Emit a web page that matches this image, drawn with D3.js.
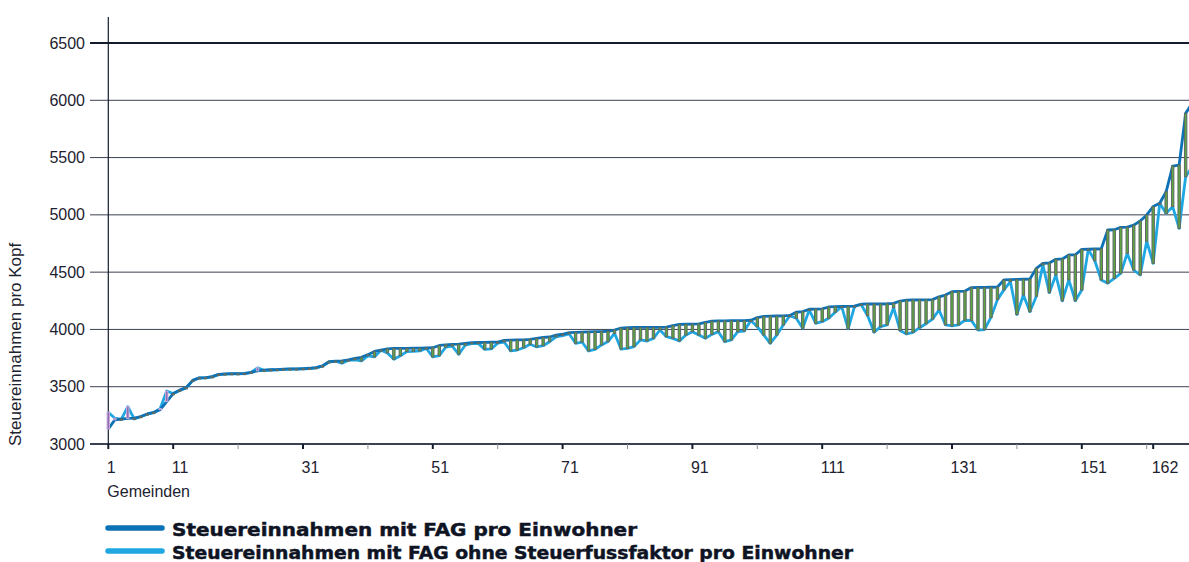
<!DOCTYPE html>
<html><head><meta charset="utf-8">
<script src="https://cdn.jsdelivr.net/npm/d3@7"></script>
<style>
html,body{margin:0;padding:0;background:#fff;}
svg{display:block;}
</style></head>
<body>
<svg id="chart" width="1189" height="562"></svg>
<script>
// Steuereinnahmen mit FAG pro Einwohner (dark line), sorted by Gemeinde rank
const mitFAG = [
3131,3210,3218,3224,3226,3240,3262,3276,3300,3370,
3440,3470,3492,3555,3578,3580,3588,3608,3612,3614,
3614,3616,3626,3638,3645,3648,3650,3654,3655,3656,
3658,3661,3667,3682,3718,3724,3726,3734,3748,3757,
3780,3808,3820,3830,3834,3835,3835,3836,3836,3838,
3840,3860,3866,3870,3871,3878,3884,3886,3887,3888,
3890,3905,3907,3908,3909,3914,3922,3930,3934,3950,
3958,3972,3975,3976,3978,3980,3981,3984,3995,4012,
4016,4017,4018,4018,4018,4018,4020,4033,4044,4045,
4046,4048,4062,4072,4074,4075,4076,4076,4077,4080,
4103,4114,4116,4117,4118,4122,4150,4156,4176,4178,
4180,4196,4199,4200,4202,4204,4220,4222,4222,4222,
4224,4228,4248,4255,4257,4258,4258,4260,4285,4300,
4330,4332,4335,4365,4366,4367,4368,4370,4432,4434,
4436,4438,4440,4533,4577,4580,4612,4615,4650,4652,
4699,4700,4702,4704,4868,4870,4891,4893,4910,4946,
4999,5072,5101,5202,5426,5435,5886,5975];
// Steuereinnahmen mit FAG ohne Steuerfussfaktor pro Einwohner (light line)
const ohneSteuerfuss = [
3278,3225,3215,3326,3218,3238,3260,3274,3310,3462,
3440,3468,3490,3553,3576,3578,3586,3606,3610,3612,
3612,3614,3624,3665,3643,3646,3648,3652,3653,3654,
3656,3659,3665,3680,3716,3722,3705,3732,3735,3725,
3770,3760,3818,3795,3740,3770,3806,3808,3812,3835,
3760,3771,3845,3855,3783,3862,3876,3878,3826,3830,
3880,3890,3812,3820,3840,3870,3847,3858,3893,3935,
3946,3962,3879,3890,3812,3826,3865,3894,3966,3829,
3834,3850,3908,3899,3922,3995,3937,3922,3899,3951,
3980,3951,3922,3957,3980,3893,3908,3980,3986,4078,
4024,3951,3879,3951,4039,4120,4097,4010,4170,4053,
4068,4097,4150,4199,4005,4204,4218,4120,3975,4024,
4039,4190,3990,3960,3975,4015,4050,4090,4170,4039,
4030,4040,4080,4077,3995,3998,4105,4260,4345,4417,
4130,4300,4155,4290,4562,4321,4475,4250,4432,4250,
4344,4699,4600,4432,4403,4446,4490,4664,4518,4475,
4770,4577,5101,5013,5072,4882,5333,5420];

const yTicks = [3000,3500,4000,4500,5000,5500,6000,6500];
const xMajorTicks = [1,11,31,51,71,91,111,131,151,162];
const xMinorTicks = [21,41,61,81,101,121,141,161];
const yTitle = "Steuereinnahmen pro Kopf";
const xTitle = "Gemeinden";
const legendLabels = ["Steuereinnahmen mit FAG pro Einwohner",
                      "Steuereinnahmen mit FAG ohne Steuerfussfaktor pro Einwohner"];

(function(){
const data = mitFAG.map((v,i)=>({g:i+1, a:v, b:ohneSteuerfuss[i]}));

const W = 1189, H = 562;
const svg = d3.select("#chart");
const plotLeft = 108.3, gridLeft = 90, plotBottom = 444, plotTop = 43;
const step = 6.49;
const x = d3.scaleLinear().domain([1, data.length]).range([plotLeft, plotLeft + step*(data.length-1)]);
const y = d3.scaleLinear().domain([3000, 6500]).range([plotBottom, plotTop]);

const darkBlue = "#0c72b6", lightBlue = "#1ea7e1", ink = "#141b2d";
const font = "'Liberation Sans', Arial, sans-serif";
const labelSize = 16;

// grid lines
svg.append("g").selectAll("line").data(yTicks).join("line")
  .attr("x1", gridLeft).attr("x2", W)
  .attr("y1", d=>y(d)).attr("y2", d=>y(d))
  .attr("stroke", d=> d===6500 ? ink : "#3b4150")
  .attr("stroke-width", d=> d===6500 ? 2.2 : (d===3000 ? 2 : 1));

// y labels
svg.append("g").selectAll("text").data(yTicks).join("text")
  .attr("x", 85).attr("y", d=>y(d)+5.5)
  .attr("text-anchor","end")
  .attr("font-family", font).attr("font-size", labelSize).attr("fill", "#1d2230")
  .text(d=>d);

// y axis line
svg.append("line").attr("x1", plotLeft).attr("x2", plotLeft)
  .attr("y1", y.range()[1]-26).attr("y2", plotBottom)
  .attr("stroke", ink).attr("stroke-width", 1.2);

// x ticks
svg.append("g").selectAll("line").data(xMinorTicks).join("line")
  .attr("x1", d=>x(d)).attr("x2", d=>x(d))
  .attr("y1", plotBottom).attr("y2", plotBottom+5)
  .attr("stroke", "#8a8f98").attr("stroke-width", 1);
svg.append("g").selectAll("line").data(xMajorTicks).join("line")
  .attr("x1", d=>x(d)).attr("x2", d=>x(d))
  .attr("y1", plotBottom).attr("y2", plotBottom+5)
  .attr("stroke", ink).attr("stroke-width", 2);
svg.append("g").selectAll("text").data(xMajorTicks).join("text")
  .attr("x", d=>x(d)-1.5).attr("y", plotBottom+29)
  .attr("font-family", font).attr("font-size", labelSize).attr("fill", "#1d2230")
  .text(d=>d);
svg.append("text").attr("x", plotLeft-1).attr("y", plotBottom+53)
  .attr("font-family", font).attr("font-size", labelSize).attr("fill", "#1d2230")
  .text(xTitle);

// y title
svg.append("text")
  .attr("transform", `translate(21, ${plotBottom+2}) rotate(-90)`)
  .attr("font-family", font).attr("font-size", 17).attr("fill", "#1d2230")
  .text(yTitle);

// lines
const plot = svg.append("g");
const lineA = d3.line().x(d=>x(d.g)).y(d=>y(d.a));
const lineB = d3.line().x(d=>x(d.g)).y(d=>y(d.b));
plot.append("path").datum(data).attr("d", lineB)
  .attr("fill","none").attr("stroke", lightBlue).attr("stroke-width", 2.8).attr("stroke-linejoin","round");
plot.append("path").datum(data).attr("d", lineA)
  .attr("fill","none").attr("stroke", darkBlue).attr("stroke-width", 2.8).attr("stroke-linejoin","round");

// candles
const cw = 2.4;
plot.selectAll("rect.c").data(data).join("rect")
  .attr("class","c")
  .attr("x", d=>x(d.g)-cw/2)
  .attr("y", d=>Math.min(y(d.a), y(d.b)))
  .attr("width", cw)
  .attr("height", d=>Math.max(1.2, Math.abs(y(d.a)-y(d.b))))
  .attr("fill", d=> d.a >= d.b ? "#5da83d" : "#8e6cb4")
  .attr("stroke", d=> d.a >= d.b ? "#5e6868" : "#c4a9d8")
  .attr("stroke-width", 1);

// legend
const lg = svg.append("g");
legendLabels.forEach((t,i)=>{
  const ly = 528 + i*23;
  lg.append("line").attr("x1", 108).attr("x2", 162).attr("y1", ly).attr("y2", ly)
    .attr("stroke", i===0 ? darkBlue : lightBlue).attr("stroke-width", 5.5).attr("stroke-linecap","round");
  lg.append("text").attr("x", 172).attr("y", ly+7.5)
    .attr("font-family", "'DejaVu Sans', sans-serif").attr("font-weight", "bold")
    .attr("font-size", 18).attr("fill", "#0f1424")
    .attr("stroke", "#0f1424").attr("stroke-width", 0.5)
    .attr("textLength", i===0 ? 465 : 681).attr("lengthAdjust","spacingAndGlyphs")
    .text(t);
});
})();
</script>
</body></html>
